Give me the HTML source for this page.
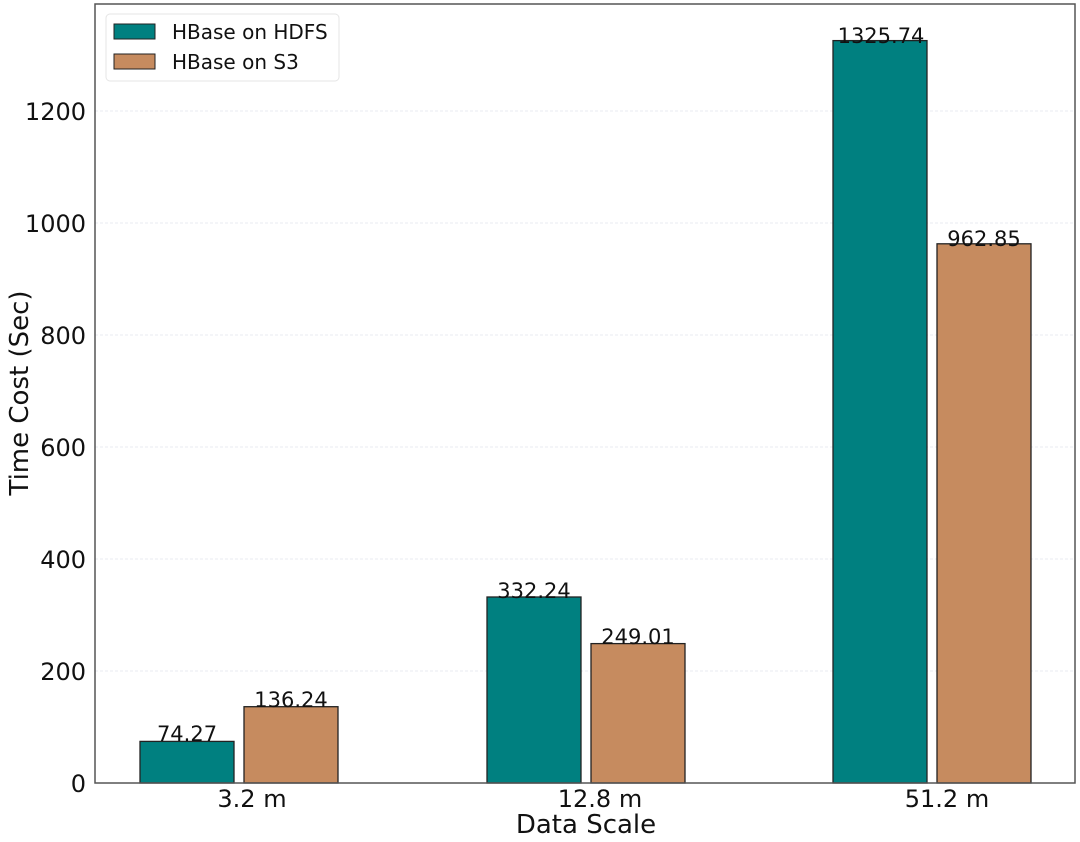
<!DOCTYPE html>
<html><head><meta charset="utf-8"><style>body{margin:0;background:#fff}svg{display:block}text{font-family:"DejaVu Sans","Liberation Sans",sans-serif;fill:#111}</style></head><body>
<svg width="1080" height="842" viewBox="0 0 1080 842">
<g stroke="#e8ebf0" stroke-width="1" stroke-dasharray="3,2">
<line x1="95" x2="1075" y1="671" y2="671"/><line x1="95" x2="1075" y1="559" y2="559"/><line x1="95" x2="1075" y1="447" y2="447"/><line x1="95" x2="1075" y1="335" y2="335"/><line x1="95" x2="1075" y1="223" y2="223"/><line x1="95" x2="1075" y1="111" y2="111"/>
</g>
<g stroke="#222" stroke-width="1.3">
<rect x="140" y="741.4" width="94" height="41.6" fill="#008080"/>
<rect x="244" y="706.7" width="94" height="76.3" fill="#c68b5f"/>
<rect x="487" y="597" width="94" height="186" fill="#008080"/>
<rect x="591" y="643.6" width="94" height="139.4" fill="#c68b5f"/>
<rect x="833" y="40.6" width="94" height="742.4" fill="#008080"/>
<rect x="937" y="243.8" width="94" height="539.2" fill="#c68b5f"/>
</g>
<g font-size="21" text-anchor="middle">
<text x="187" y="741">74.27</text><text x="291" y="707">136.24</text>
<text x="534" y="598">332.24</text><text x="638" y="644">249.01</text>
<text x="881" y="43">1325.74</text><text x="984" y="246">962.85</text>
</g>
<rect x="95" y="4" width="980" height="779" fill="none" stroke="#555" stroke-width="1.5"/>
<g font-size="24" text-anchor="end">
<text x="86" y="792">0</text><text x="86" y="680">200</text><text x="86" y="568">400</text><text x="86" y="456">600</text><text x="86" y="344">800</text><text x="86" y="232">1000</text><text x="86" y="120">1200</text>
</g>
<g font-size="24" text-anchor="middle">
<text x="252" y="807">3.2 m</text><text x="600" y="807">12.8 m</text><text x="947" y="807">51.2 m</text>
<text x="586" y="833" font-size="26">Data Scale</text>
<text transform="translate(28,393) rotate(-90)" font-size="26">Time Cost (Sec)</text>
</g>
<rect x="106" y="14" width="233" height="67" rx="4" fill="#fff" stroke="#e5e5e5"/>
<rect x="114" y="24" width="41" height="15" fill="#008080" stroke="#222"/>
<rect x="114" y="54" width="41" height="15" fill="#c68b5f" stroke="#222"/>
<g font-size="20"><text x="172" y="39">HBase on HDFS</text><text x="172" y="69">HBase on S3</text></g>
</svg>
</body></html>
